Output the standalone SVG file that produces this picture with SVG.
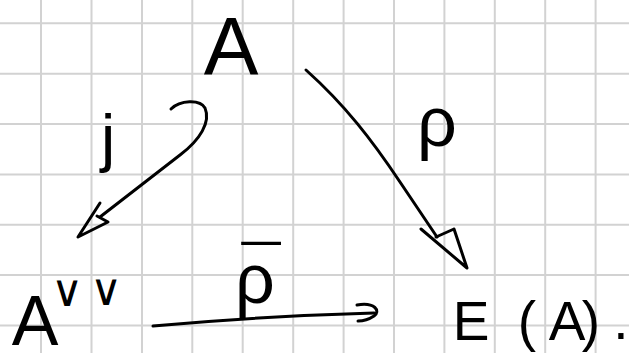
<svg xmlns="http://www.w3.org/2000/svg" width="629" height="353" viewBox="0 0 629 353">
<style>
.grid line{stroke:#d2d2d2;stroke-width:2}
.ink{fill:none;stroke:#000;stroke-width:3;stroke-linecap:round;stroke-linejoin:round}
.t{font-family:"Liberation Sans","DejaVu Sans",sans-serif;fill:#000;text-anchor:middle}
</style>
<rect width="629" height="353" fill="#fff"/>
<g class="grid">
<line x1="41" y1="0" x2="41" y2="353"/><line x1="91.5" y1="0" x2="91.5" y2="353"/><line x1="142" y1="0" x2="142" y2="353"/><line x1="192.3" y1="0" x2="192.3" y2="353"/><line x1="242.7" y1="0" x2="242.7" y2="353"/><line x1="293.2" y1="0" x2="293.2" y2="353"/><line x1="343.6" y1="0" x2="343.6" y2="353"/><line x1="394" y1="0" x2="394" y2="353"/><line x1="444.4" y1="0" x2="444.4" y2="353"/><line x1="494.8" y1="0" x2="494.8" y2="353"/><line x1="545.2" y1="0" x2="545.2" y2="353"/><line x1="595.6" y1="0" x2="595.6" y2="353"/>
<line x1="0" y1="23.3" x2="629" y2="23.3"/><line x1="0" y1="73.7" x2="629" y2="73.7"/><line x1="0" y1="124" x2="629" y2="124"/><line x1="0" y1="174.4" x2="629" y2="174.4"/><line x1="0" y1="224.7" x2="629" y2="224.7"/><line x1="0" y1="275" x2="629" y2="275"/><line x1="0" y1="325.4" x2="629" y2="325.4"/>
</g>
<g id="connectors">
<g id="edge-j">
<path class="ink" d="M171,109 C180,100 200,99 205,108 C211,122 200,140 180,155 L100,217"/>
<path class="ink" d="M100,203 L78,237 L108,222 L97,216"/>
<text class="t" x="108" y="160" font-size="64">j</text>
</g>
<g id="edge-rho">
<path class="ink" d="M306,70 C345,105 372,140 400,182 L437,237"/>
<path class="ink" d="M421,229 L467,268 L454,229 L436,237"/>
<text class="t" x="437" y="146" font-size="70">ρ</text>
</g>
<g id="edge-rhobar">
<path class="ink" d="M153,326 C220,320 300,315 374,313"/>
<path class="ink" d="M357,305 C375,302 381,311 374,316 C368,320 361,321 358,321"/>
<text class="t" x="255" y="303" font-size="70">ρ<tspan x="261" y="295">¯</tspan></text>
</g>
</g>
<g id="node-A">
<text class="t" x="231" y="74" font-size="82">A</text>
</g>
<g id="node-Avv">
<text class="t" x="35" y="345" font-size="70">A<tspan x="67" y="306" font-size="44">∨</tspan><tspan x="106" y="305" font-size="44">∨</tspan></text>
</g>
<g id="node-EA">
<text class="t" x="471 527 567 591" y="340" font-size="55">E(A)</text>
<text class="t" x="621" y="339" font-size="55">.</text>
</g>
</svg>
